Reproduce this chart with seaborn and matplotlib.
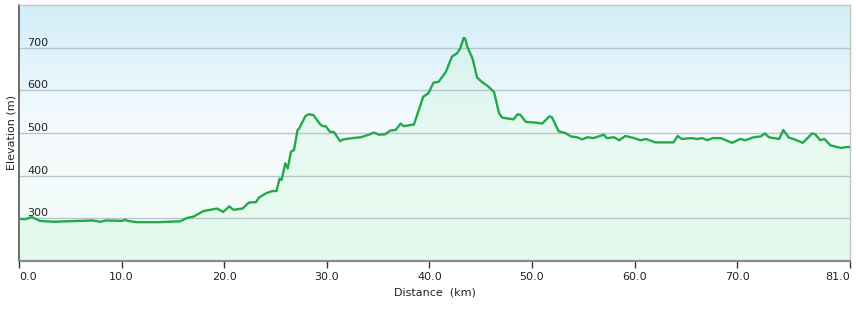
import numpy as np
import pandas as pd
import matplotlib
matplotlib.use("Agg")
import matplotlib.pyplot as plt
import seaborn as sns
from matplotlib.colors import LinearSegmentedColormap

distance_km = [0.0, 0.6, 1.24, 1.5, 2.05, 3.3, 4.6, 6.9, 7.2, 7.9, 8.5, 10.1, 10.3, 10.6,
               11.5, 13.5, 15.7, 16.4, 17.0, 17.98, 19.3, 19.9, 20.5, 20.9, 21.8, 22.4,
               23.1, 23.4, 24.1, 24.7, 25.1, 25.4, 25.6, 25.95, 26.2, 26.5, 26.8, 27.15,
               27.3, 27.9, 28.2, 28.7, 29.3, 29.6, 29.9, 30.3, 30.7, 31.3, 31.6, 32.5,
               33.3, 34.1, 34.6, 35.1, 35.7, 36.2, 36.7, 37.2, 37.5, 38.0, 38.5, 38.96,
               39.4, 39.9, 40.4, 40.9, 41.6, 42.2, 42.7, 43.0, 43.35, 43.5, 43.7, 44.2,
               44.65, 45.1, 45.8, 46.3, 46.8, 47.1, 48.2, 48.6, 48.9, 49.4, 50.5, 50.99,
               51.7, 51.95, 52.6, 53.25, 53.8, 54.4, 54.9, 55.4, 56.0, 57.0, 57.3, 58.0,
               58.5, 59.1, 59.8, 60.6, 61.1, 62.05, 62.9, 63.8, 64.2, 64.6, 65.5, 66.1,
               66.6, 67.1, 67.6, 68.4, 69.5, 70.3, 70.8, 71.6, 72.3, 72.7, 73.1, 74.1,
               74.5, 75.05, 75.6, 76.4, 76.9, 77.3, 77.6, 78.1, 78.5, 79.1, 80.1, 80.6, 81.0]
elevation_m = [299, 298, 303, 300, 294, 292, 293, 295, 295, 292, 295, 294, 297, 294,
               291, 291, 293, 301, 304, 317, 323, 315, 328, 320, 323, 337,
               338, 349, 359, 364, 364, 393, 390, 429, 417, 456, 460, 507,
               510, 539, 544, 542, 522, 516, 516, 503, 502, 481, 485, 488,
               490, 496, 501, 496, 497, 506, 507, 522, 516, 518, 520, 553,
               585, 593, 618, 620, 643, 679, 687, 698, 723, 721, 702, 675,
               630, 620, 608, 596, 546, 536, 532, 544, 542, 526, 524, 522,
               539, 537, 504, 500, 492, 490, 485, 490, 488, 496, 488, 490,
               483, 493, 489, 483, 486, 478, 478, 478, 493, 486, 488, 486,
               488, 483, 488, 488, 477, 486, 483, 490, 492, 499, 490, 486,
               507, 489, 485, 477, 489, 499, 497, 483, 486, 471, 465, 467, 467]
x_ticks = [0, 10, 20, 30, 40, 50, 60, 70, 81]
x_tick_labels = ["0.0", "10.0", "20.0", "30.0", "40.0", "50.0", "60.0", "70.0", "81.0"]
y_ticks = [300, 400, 500, 600, 700]

df = pd.DataFrame({"Distance": distance_km, "Elevation": elevation_m})

sns.set_theme(style="white")
plt.rcParams["font.family"] = ["DejaVu Sans"]

fig = plt.figure(figsize=(8.56, 3.10), dpi=100)
ax = fig.add_axes([19/856, 49/310, 831/856, 256/310])

# gradient background
cmap = LinearSegmentedColormap.from_list("bg", ["#f0fbf6", "#f6fbfd", "#d2eef9"])
grad = np.linspace(0, 1, 256).reshape(-1, 1)
ax.imshow(grad, extent=[0, 1, 0, 1], transform=ax.transAxes, origin="lower",
          aspect="auto", cmap=cmap, zorder=0)

ax.fill_between(df["Distance"], df["Elevation"], 200, color="#c4f5d6", alpha=0.28,
                lw=0, zorder=1)
sns.lineplot(data=df, x="Distance", y="Elevation", ax=ax, color="#22aa4a",
             lw=1.7, zorder=3)

ax.set_xlim(0, 81)
ax.set_ylim(200, 800)

for y in y_ticks:
    ax.axhline(y, color="#b9c5cc", lw=1, zorder=2)
    ax.text(8/831, y, str(y), transform=ax.get_yaxis_transform(), ha="left",
            va="bottom", fontsize=8, color="#222222", zorder=4)
ax.set_yticks([])

ax.set_xticks(x_ticks)
ax.set_xticklabels(x_tick_labels, fontsize=8, color="#222222")
labels = ax.get_xticklabels()
labels[0].set_ha("left")
labels[-1].set_ha("right")
ax.tick_params(axis="x", direction="out", length=5, width=1, color="#333333",
               bottom=True, pad=3)

ax.set_xlabel("Distance  (km)", fontsize=8, color="#222222", labelpad=4)
ax.set_ylabel("Elevation (m)", fontsize=8, color="#222222", labelpad=2)

ax.spines["left"].set_color("#555555")
ax.spines["left"].set_linewidth(1.2)
ax.spines["bottom"].set_color("#8a8a8a")
ax.spines["bottom"].set_linewidth(1.6)
for s in ["top", "right"]:
    ax.spines[s].set_color("#c4c4c4")
    ax.spines[s].set_linewidth(1)

fig.savefig("out.png", dpi=100)
